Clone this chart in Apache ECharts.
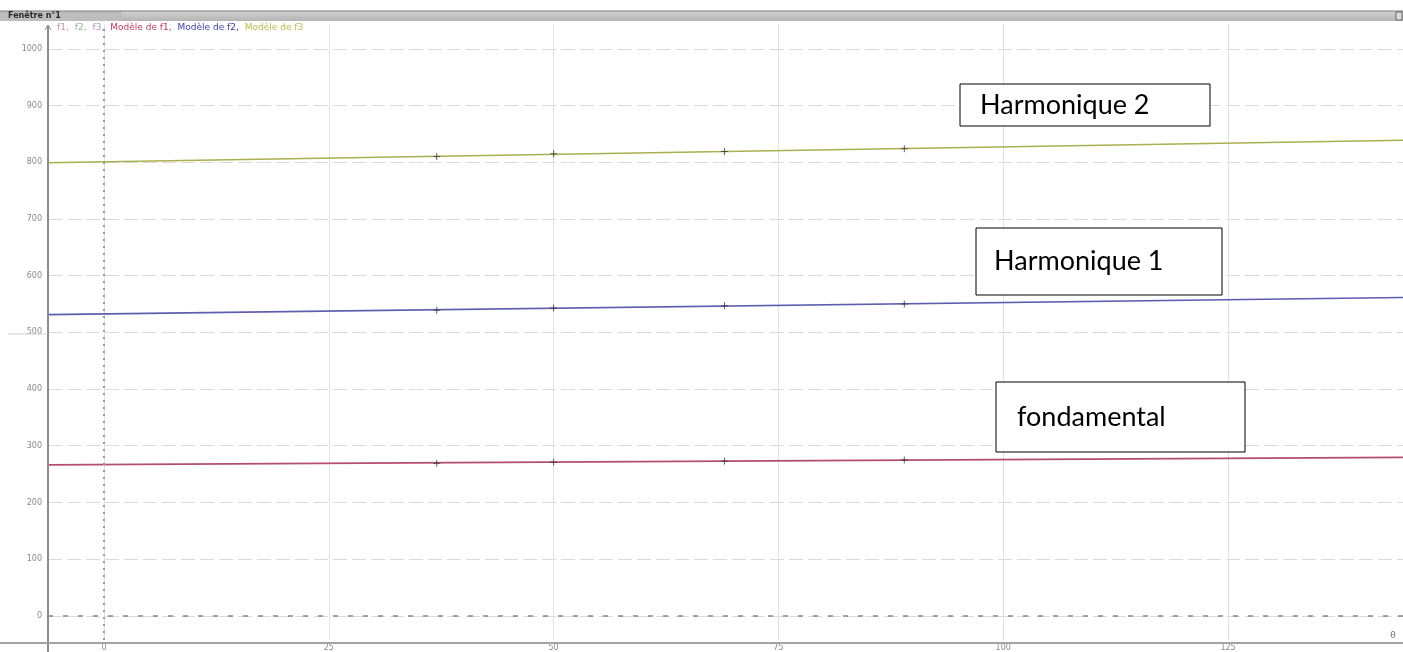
<!DOCTYPE html>
<html>
<head>
<meta charset="utf-8">
<script src="https://cdn.jsdelivr.net/npm/echarts@6/dist/echarts.min.js"></script>
<style>
  html, body { margin: 0; padding: 0; background: #ffffff; }
  #chart { width: 1403px; height: 652px; }
</style>
</head>
<body>
<div id="chart"></div>
<script>
// Measured frequencies (f1, f2, f3) and their linear models
const windowTitle = 'Fenêtre n°1';
const seriesNames = ['f1', 'f2', 'f3', 'Modèle de f1', 'Modèle de f2', 'Modèle de f3'];
const xMeasured = [37, 50, 69, 89];
const f1 = [269, 271, 273, 275];
const f2 = [539, 543, 547, 550];
const f3 = [810, 815, 819, 824];
const modelX = [-6.23, 144.46];
const modelF1 = [266.3, 279.4];
const modelF2 = [531.3, 561.6];
const modelF3 = [799.2, 838.9];
const boxLabels = ['Harmonique 2', 'Harmonique 1', 'fondamental'];
const xUnit = 'θ';

const legendColors = ['#b99aa6', '#93b39a', '#9c9cc0', '#c8385a', '#3c3ca6', '#bcbc4a'];
const modelColors = ['#b54d6e', '#5d5db0', '#a9b04e'];

const pairs = (xs, ys) => xs.map((x, i) => [x, ys[i]]);
const crossSymbol = 'path://M0,5L10,5M5,0L5,10';

const measuredSeries = [f1, f2, f3].map((ys, i) => ({
  name: seriesNames[i],
  type: 'scatter',
  data: pairs(xMeasured, ys),
  symbol: crossSymbol,
  symbolSize: 7,
  itemStyle: { color: 'none', borderColor: '#3a3a3a', borderWidth: 1 },
  z: 5
}));

const modelSeries = [modelF1, modelF2, modelF3].map((ys, i) => ({
  name: seriesNames[i + 3],
  type: 'line',
  data: pairs(modelX, ys),
  showSymbol: false,
  lineStyle: { color: modelColors[i], width: 1.6 },
  itemStyle: { color: modelColors[i] },
  z: 3
}));

// zero lines of both axes
modelSeries[0].markLine = {
  silent: true,
  symbol: ['none', 'none'],
  label: { show: false },
  animation: false,
  data: [
    { yAxis: 0, lineStyle: { type: [5, 10], color: '#858585', width: 1.5 } },
    { xAxis: 0, lineStyle: { type: [2, 5], color: '#999999', width: 2 } }
  ]
};

function textBox(left, top, width, height, text, tx) {
  return {
    type: 'group',
    z: 50,
    children: [
      { type: 'rect', z: 50, shape: { x: left, y: top, width: width, height: height },
        style: { fill: '#ffffff', stroke: '#000000', lineWidth: 1 } },
      { type: 'text', z: 51, x: tx, y: top + height / 2,
        style: { text: text, font: '27px Lato', fill: '#000000', textVerticalAlign: 'middle' } }
    ]
  };
}

const chart = echarts.init(document.getElementById('chart'), null, { renderer: 'canvas' });
chart.setOption({
  animation: false,
  backgroundColor: '#ffffff',
  grid: { left: 48, right: 0, top: 24, bottom: 9, containLabel: false },
  legend: {
    left: 52, top: 23, padding: 0,
    icon: 'none', itemWidth: 0, itemHeight: 8, itemGap: 1,
    selectedMode: false,
    textStyle: { fontSize: 9, fontFamily: 'DejaVu Sans' },
    formatter: name => name === seriesNames[5] ? name : name + ',',
    data: seriesNames.map((n, i) => ({ name: n, textStyle: { color: legendColors[i] } }))
  },
  xAxis: {
    type: 'value',
    min: modelX[0], max: modelX[1],
    minInterval: 25, maxInterval: 25, splitNumber: 6,
    axisLine: { show: false },
    axisTick: { show: false },
    axisLabel: { showMinLabel: false, showMaxLabel: false, fontSize: 8, color: '#8a8a8a', margin: 4, fontFamily: 'DejaVu Sans',
      formatter: v => String(v) },
    splitLine: { show: true, showMinLine: false, showMaxLine: false, lineStyle: { color: '#e2e2e2', width: 1 } }
  },
  yAxis: {
    type: 'value',
    min: -42.65, max: 1043.9,
    minInterval: 100, maxInterval: 100, splitNumber: 11,
    axisLine: { show: false },
    axisTick: { show: false },
    axisLabel: { showMinLabel: false, showMaxLabel: false, fontSize: 8, color: '#8a8a8a', margin: 6, fontFamily: 'DejaVu Sans',
      formatter: v => String(v) },
    splitLine: { show: true, showMinLine: false, showMaxLine: false, lineStyle: { color: '#dadada', width: 1, type: [14, 5] } }
  },
  series: measuredSeries.concat(modelSeries),
  graphic: [
    // window title bar
    { type: 'rect', z: 40, shape: { x: 0, y: 11, width: 1403, height: 10 },
      style: { fill: new echarts.graphic.LinearGradient(0, 0, 0, 1, [
        { offset: 0, color: '#d2d2d2' }, { offset: 1, color: '#b4b4b4' }]) } },
    { type: 'rect', z: 41, shape: { x: 0, y: 11, width: 122, height: 10 },
      style: { fill: '#bdbdbd' } },
    { type: 'line', z: 42, shape: { x1: 0, y1: 11, x2: 1403, y2: 11 },
      style: { stroke: '#7a7a7a', lineWidth: 1 } },
    { type: 'text', z: 43, x: 8, y: 16,
      style: { text: windowTitle, font: 'bold 8px DejaVu Sans', fill: '#2a2a2a', textVerticalAlign: 'middle' } },
    { type: 'rect', z: 43, shape: { x: 1396, y: 12, width: 6, height: 8 },
      style: { fill: '#dcdcdc', stroke: '#666666', lineWidth: 1 } },
    // frame lines
    { type: 'line', z: 20, shape: { x1: 48, y1: 25, x2: 48, y2: 652 },
      style: { stroke: '#8c8c8c', lineWidth: 2 } },
    { type: 'polyline', z: 20, shape: { points: [[45, 30], [48, 25], [51, 30]] },
      style: { stroke: '#8c8c8c', lineWidth: 1, fill: 'none' } },
    { type: 'line', z: 20, shape: { x1: 0, y1: 643, x2: 1403, y2: 643 },
      style: { stroke: '#a3a3a3', lineWidth: 2 } },
    { type: 'line', z: 20, shape: { x1: 8, y1: 334, x2: 46, y2: 334 },
      style: { stroke: '#d0d0d0', lineWidth: 1 } },
    { type: 'text', z: 20, x: 1393, y: 636,
      style: { text: xUnit, font: '9px DejaVu Sans', fill: '#707070', textAlign: 'center', textVerticalAlign: 'middle' } },
    // annotation boxes
    textBox(960, 84, 250, 42, boxLabels[0], 980),
    textBox(976, 228, 246, 67, boxLabels[1], 994),
    textBox(996, 382, 249, 70, boxLabels[2], 1017)
  ]
});
</script>
</body>
</html>
